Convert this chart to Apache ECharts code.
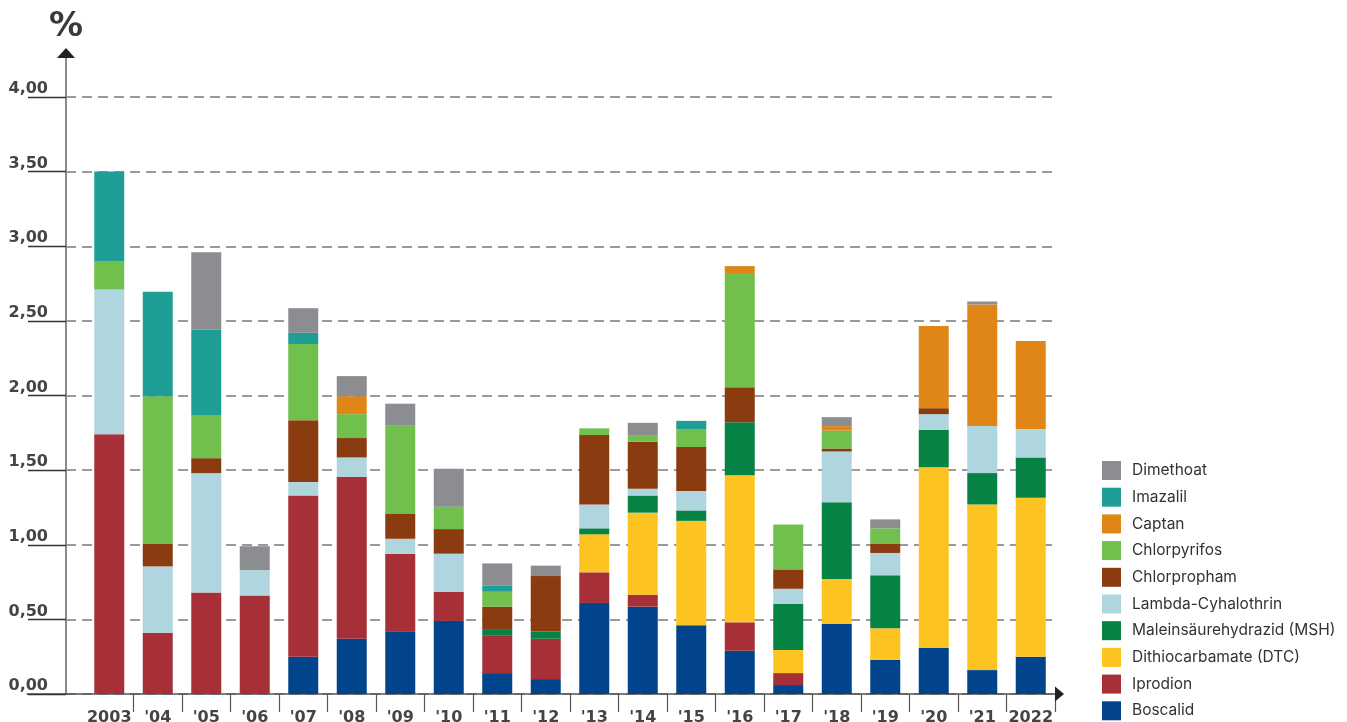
<!DOCTYPE html>
<html>
<head>
<meta charset="utf-8">
<script src="https://cdn.jsdelivr.net/npm/echarts@6/dist/echarts.min.js"></script>
<style>
html,body{margin:0;padding:0;background:#fff;}
#chart{width:1347px;height:722px;}
</style>
</head>
<body>
<div id="chart"></div>
<script>
const categories = ['2003', "'04", "'05", "'06", "'07", "'08", "'09", "'10", "'11", "'12", "'13", "'14", "'15", "'16", "'17", "'18", "'19", "'20", "'21", '2022'];

const boscalid     = [0, 0, 0, 0, 0.25, 0.37, 0.42, 0.49, 0.14, 0.10, 0.61, 0.585, 0.46, 0.29, 0.06, 0.47, 0.23, 0.31, 0.16, 0.25];
const iprodion     = [1.74, 0.41, 0.68, 0.66, 1.08, 1.085, 0.52, 0.195, 0.25, 0.27, 0.205, 0.08, 0, 0.19, 0.08, 0, 0, 0, 0, 0];
const dtc          = [0, 0, 0, 0, 0, 0, 0, 0, 0, 0, 0.255, 0.55, 0.70, 0.985, 0.155, 0.30, 0.21, 1.21, 1.11, 1.065];
const msh          = [0, 0, 0, 0, 0, 0, 0, 0, 0.045, 0.05, 0.04, 0.115, 0.07, 0.355, 0.31, 0.515, 0.355, 0.25, 0.21, 0.27];
const lambda       = [0.97, 0.445, 0.80, 0.17, 0.09, 0.13, 0.10, 0.255, 0, 0, 0.16, 0.045, 0.13, 0, 0.10, 0.34, 0.15, 0.105, 0.315, 0.19];
const chlorpropham = [0, 0.15, 0.10, 0, 0.415, 0.13, 0.17, 0.165, 0.15, 0.37, 0.465, 0.315, 0.295, 0.235, 0.13, 0.02, 0.06, 0.04, 0, 0];
const chlorpyrifos = [0.19, 0.99, 0.29, 0, 0.51, 0.16, 0.59, 0.15, 0.10, 0, 0.045, 0.04, 0.12, 0.765, 0.30, 0.12, 0.105, 0, 0, 0];
const captan       = [0, 0, 0, 0, 0, 0.12, 0, 0, 0, 0, 0, 0, 0, 0.047, 0, 0.03, 0, 0.55, 0.815, 0.59];
const imazalil     = [0.60, 0.70, 0.57, 0, 0.075, 0, 0, 0, 0.04, 0, 0, 0, 0.055, 0, 0, 0, 0, 0, 0, 0];
const dimethoat    = [0, 0, 0.52, 0.16, 0.165, 0.135, 0.145, 0.255, 0.15, 0.07, 0, 0.087, 0, 0, 0, 0.06, 0.06, 0, 0.02, 0];

const yTicks = [0, 0.5, 1, 1.5, 2, 2.5, 3, 3.5, 4];

const seriesDefs = [
  ['Boscalid', boscalid, '#02448c'],
  ['Iprodion', iprodion, '#a62f38'],
  ['Dithiocarbamate (DTC)', dtc, '#fdc421'],
  ['Maleinsäurehydrazid (MSH)', msh, '#068244'],
  ['Lambda-Cyhalothrin', lambda, '#afd5df'],
  ['Chlorpropham', chlorpropham, '#8b3b10'],
  ['Chlorpyrifos', chlorpyrifos, '#71bf4c'],
  ['Captan', captan, '#df8617'],
  ['Imazalil', imazalil, '#1f9e98'],
  ['Dimethoat', dimethoat, '#8c8d91']
];

const labelFont = 'DejaVu Sans';
const hidden = {show: false};

const chart = echarts.init(document.getElementById('chart'), null, {renderer: 'canvas'});

const g = o => Object.assign({outerBoundsMode: 'none', containLabel: false}, o);

const option = {
  animation: false,
  backgroundColor: '#fff',
  grid: [
    g({left: 85, right: 292, top: 97, bottom: 28}),
    g({left: 66, right: 292, top: 97, bottom: 28}),
    g({left: 66, top: 54, bottom: 28, width: 10}),
    g({left: 27, right: 289, top: 600, bottom: 28}),
    g({left: 66, top: 53, height: 1, width: 10}),
    g({left: 1058, top: 600, bottom: 28, width: 1.5})
  ],
  legend: {
    orient: 'vertical',
    left: 1102,
    top: 461,
    padding: 0,
    itemWidth: 19,
    itemHeight: 19,
    itemGap: 7.7,
    icon: 'rect',
    data: seriesDefs.map(d => d[0]).reverse(),
    textStyle: {fontFamily: 'Inter', fontSize: 15.5, color: '#333', padding: [0, 0, 0, 6]}
  },
  xAxis: [
    {
      gridIndex: 0,
      type: 'category',
      data: categories,
      boundaryGap: true,
      axisLine: {show: false},
      axisTick: {
        show: true, length: 18,
        interval: function (index) { return index !== 0; },
        lineStyle: {color: '#555', width: 1.2}
      },
      axisLabel: {
        interval: 0, margin: 16,
        fontFamily: labelFont, fontWeight: 'bold', fontSize: 16, color: '#444'
      },
      splitLine: hidden
    },
    {gridIndex: 1, type: 'value', show: false},
    {gridIndex: 2, type: 'value', show: false},
    {
      gridIndex: 3, type: 'value', min: 0, max: 1,
      axisLine: {show: true, lineStyle: {color: '#555', width: 1.5}},
      axisTick: hidden, axisLabel: hidden, splitLine: hidden
    },
    {gridIndex: 4, type: 'value', show: false},
    {
      gridIndex: 5, type: 'value', min: 0, max: 1,
      axisLine: {
        show: true, symbol: ['none', 'triangle'], symbolSize: [15, 9],
        lineStyle: {color: '#222', width: 1.5}
      },
      axisTick: hidden, axisLabel: hidden, splitLine: hidden
    }
  ],
  yAxis: [
    {gridIndex: 0, type: 'value', min: 0, max: 4, show: false},
    {
      gridIndex: 1, type: 'value', min: 0, max: 4, interval: 0.5,
      axisLine: hidden,
      axisTick: {show: true, length: 38, lineStyle: {color: '#333', width: 1.3}},
      axisLabel: {
        margin: 18, verticalAlign: 'bottom',
        fontFamily: labelFont, fontWeight: 'bold', fontSize: 16, color: '#444',
        formatter: v => yTicks.indexOf(v) >= 0 ? v.toFixed(2).replace('.', ',') : ''
      },
      splitLine: {show: true, lineStyle: {color: '#7a7a7a', width: 1.5, type: [10, 6]}}
    },
    {
      gridIndex: 2, type: 'value', min: 0, max: 1,
      name: '%', nameLocation: 'end', nameGap: 10,
      nameTextStyle: {fontFamily: labelFont, fontWeight: 'bold', fontSize: 34, color: '#3a3a3a', align: 'center'},
      axisLine: {show: true, lineStyle: {color: '#8a8a8a', width: 2}},
      axisTick: hidden, axisLabel: hidden, splitLine: hidden
    },
    {gridIndex: 3, type: 'value', show: false},
    {
      gridIndex: 4, type: 'value', min: 0, max: 1,
      axisLine: {
        show: true, symbol: ['none', 'triangle'], symbolSize: [18, 10],
        lineStyle: {color: '#222', width: 1}
      },
      axisTick: hidden, axisLabel: hidden, splitLine: hidden
    },
    {gridIndex: 5, type: 'value', show: false}
  ],
  series: seriesDefs.map(d => ({
    name: d[0],
    type: 'bar',
    stack: 'total',
    xAxisIndex: 0,
    yAxisIndex: 0,
    barWidth: 30,
    itemStyle: {color: d[2]},
    data: d[1],
    z: 3
  }))
};

chart.setOption(option);
</script>
</body>
</html>
